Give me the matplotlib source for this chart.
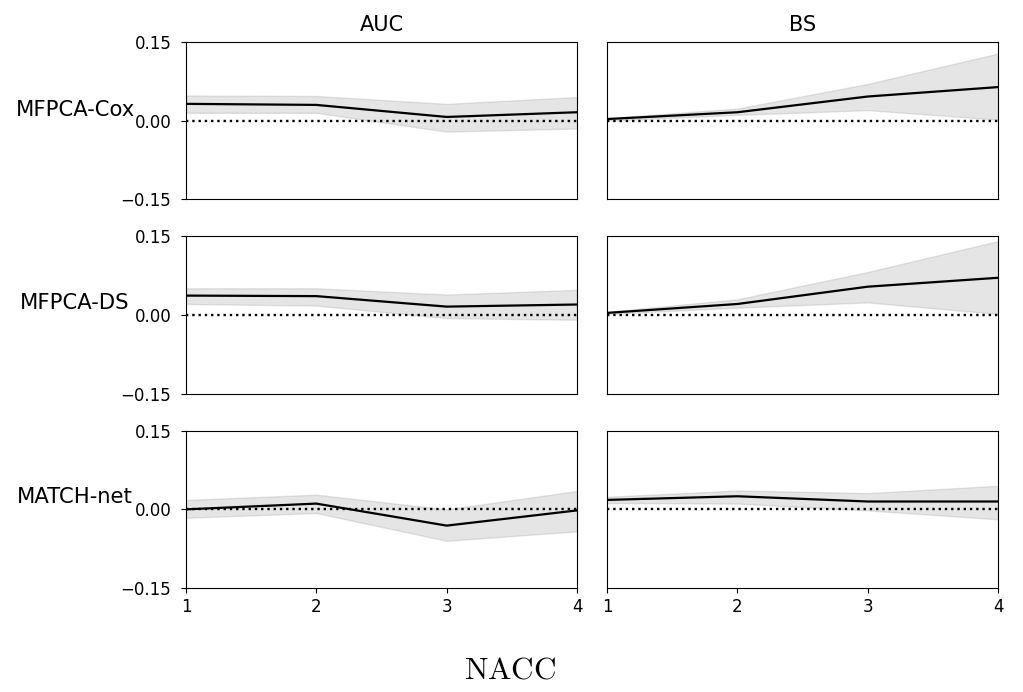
import matplotlib
matplotlib.use("Agg")
import matplotlib.pyplot as plt
import numpy as np

plt.rcParams['mathtext.fontset'] = 'cm'

x = [1, 2, 3, 4]
models = ["MFPCA-Cox", "MFPCA-DS", "MATCH-net"]
metrics = ["AUC", "BS"]

# mean differences
cox_auc = [0.032, 0.030, 0.007, 0.016]
cox_auc_lo = [0.015, 0.015, -0.021, -0.015]
cox_auc_hi = [0.048, 0.047, 0.032, 0.045]
cox_bs = [0.003, 0.016, 0.046, 0.064]
cox_bs_lo = [0.000, 0.011, 0.020, 0.002]
cox_bs_hi = [0.005, 0.023, 0.070, 0.128]

ds_auc = [0.037, 0.036, 0.016, 0.020]
ds_auc_lo = [0.021, 0.018, -0.006, -0.009]
ds_auc_hi = [0.051, 0.051, 0.039, 0.048]
ds_bs = [0.004, 0.021, 0.054, 0.071]
ds_bs_lo = [0.002, 0.014, 0.024, 0.002]
ds_bs_hi = [0.006, 0.030, 0.082, 0.141]

mn_auc = [0.000, 0.011, -0.031, -0.002]
mn_auc_lo = [-0.016, -0.007, -0.060, -0.042]
mn_auc_hi = [0.018, 0.028, 0.000, 0.035]
mn_bs = [0.018, 0.025, 0.015, 0.015]
mn_bs_lo = [0.012, 0.011, -0.002, -0.019]
mn_bs_hi = [0.024, 0.036, 0.031, 0.045]

data = [
    [(cox_auc, cox_auc_lo, cox_auc_hi), (cox_bs, cox_bs_lo, cox_bs_hi)],
    [(ds_auc, ds_auc_lo, ds_auc_hi), (ds_bs, ds_bs_lo, ds_bs_hi)],
    [(mn_auc, mn_auc_lo, mn_auc_hi), (mn_bs, mn_bs_lo, mn_bs_hi)],
]

fig, axes = plt.subplots(3, 2, figsize=(10.23, 6.92), dpi=100)
fig.subplots_adjust(left=0.1818, right=0.9756, top=0.9393, bottom=0.1503,
                    wspace=0.0767, hspace=0.236)

for i in range(3):
    for j in range(2):
        ax = axes[i, j]
        m, lo, hi = data[i][j]
        ax.fill_between(x, lo, hi, color='gray', alpha=0.2)
        ax.plot(x, m, color='black', lw=1.6)
        ax.axhline(0, color='black', ls=':', lw=1.7)
        ax.set_xlim(1, 4)
        ax.set_ylim(-0.15, 0.15)
        ax.set_yticks([-0.15, 0.0, 0.15])
        ax.set_yticklabels(["\u22120.15", "0.00", "0.15"])
        ax.set_xticks(x)
        ax.tick_params(labelsize=12)
        ax.tick_params(axis='y', pad=7)
        if i < 2:
            ax.tick_params(axis='x', bottom=False, labelbottom=False)
        if j == 1:
            ax.tick_params(axis='y', left=False, labelleft=False)
        if i == 0:
            ax.set_title(metrics[j], fontsize=15, pad=8)

row_y = [110, 303, 497]
for name, yy in zip(models, row_y):
    fig.text(75 / 1023, 1 - yy / 692, name, ha='center', va='center', fontsize=15.2)

fig.text(510 / 1023, 1 - 670 / 692, r'$\mathrm{NACC}$', ha='center', va='center', fontsize=22.5)

fig.savefig("out.png", dpi=100)
